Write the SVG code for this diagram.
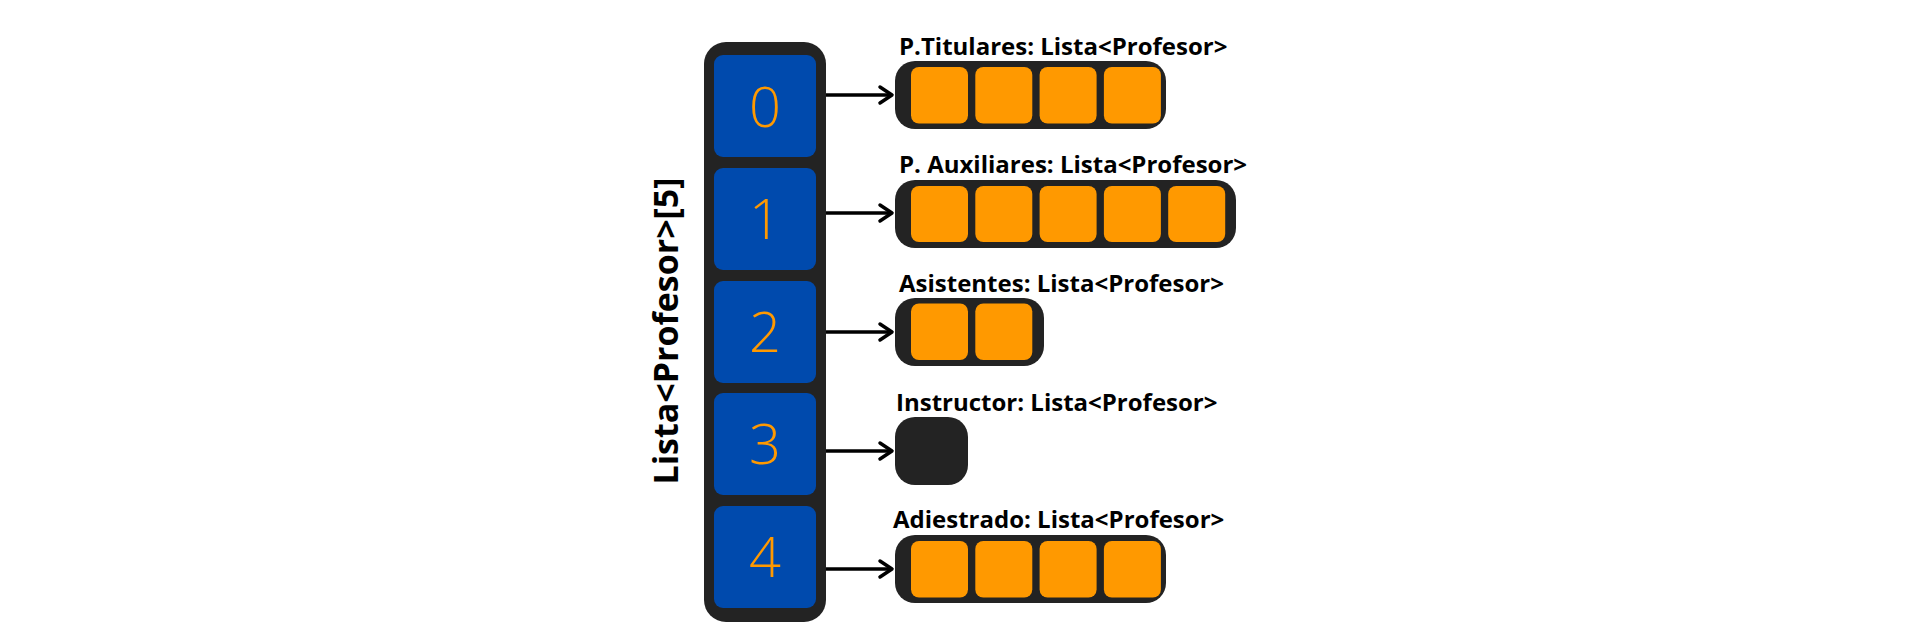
<svg xmlns="http://www.w3.org/2000/svg" width="1912" height="636" viewBox="0 0 1912 636">
<style>
.dark{fill:#232323}
.slot{fill:#004AAD}
.item{fill:#FF9900}
.num{font-family:"Open Sans","DejaVu Sans",sans-serif;font-weight:350;font-size:56px;fill:#FF9900;text-anchor:middle}
.lbl{font-family:"Open Sans","DejaVu Sans",sans-serif;font-weight:700;font-size:24px;fill:#000}
.title{font-family:"Open Sans","DejaVu Sans",sans-serif;font-weight:700;font-size:34px;fill:#000;text-anchor:middle}
.conn{stroke:#000;stroke-width:3.5;fill:none}
</style>
<defs>
<marker id="arr" markerUnits="userSpaceOnUse" markerWidth="20" markerHeight="24" viewBox="0 0 20 24" refX="16" refY="12" orient="auto">
<path d="M4,4 L16,12 L4,20" fill="none" stroke="#000" stroke-width="3.5" stroke-linecap="round" stroke-linejoin="round"/>
</marker>
</defs>
<rect width="1912" height="636" fill="#fff"/>
<g id="array">
<rect class="dark" x="704" y="42" width="122" height="580" rx="22"/>
<text class="title" transform="translate(678,331) rotate(-90)">Lista&lt;Profesor&gt;[5]</text>
</g>
<g id="slot0"><rect class="slot" x="714" y="55" width="102" height="102" rx="9"/><text class="num" x="765" y="127">0</text></g>
<g id="slot1"><rect class="slot" x="714" y="168" width="102" height="102" rx="9"/><text class="num" x="765" y="239">1</text></g>
<g id="slot2"><rect class="slot" x="714" y="281" width="102" height="102" rx="9"/><text class="num" x="765" y="352">2</text></g>
<g id="slot3"><rect class="slot" x="714" y="393" width="102" height="102" rx="9"/><text class="num" x="765" y="464">3</text></g>
<g id="slot4"><rect class="slot" x="714" y="506" width="102" height="102" rx="9"/><text class="num" x="765" y="577">4</text></g>
<g id="connectors">
<line class="conn" x1="826" y1="95" x2="892" y2="95" marker-end="url(#arr)"/>
<line class="conn" x1="826" y1="213" x2="892" y2="213" marker-end="url(#arr)"/>
<line class="conn" x1="826" y1="332" x2="892" y2="332" marker-end="url(#arr)"/>
<line class="conn" x1="826" y1="451" x2="892" y2="451" marker-end="url(#arr)"/>
<line class="conn" x1="826" y1="569" x2="892" y2="569" marker-end="url(#arr)"/>
</g>
<g id="list0">
<text class="lbl" x="899" y="55">P.Titulares: Lista&lt;Profesor&gt;</text>
<rect class="dark" x="895" y="61" width="271" height="68" rx="20"/>
<rect class="item" x="911" y="67" width="57" height="56.5" rx="8"/>
<rect class="item" x="975.3" y="67" width="57" height="56.5" rx="8"/>
<rect class="item" x="1039.6" y="67" width="57" height="56.5" rx="8"/>
<rect class="item" x="1103.9" y="67" width="57" height="56.5" rx="8"/>
</g>
<g id="list1">
<text class="lbl" x="899" y="173">P. Auxiliares: Lista&lt;Profesor&gt;</text>
<rect class="dark" x="895" y="180" width="341" height="68" rx="20"/>
<rect class="item" x="911" y="186" width="57" height="56" rx="8"/>
<rect class="item" x="975.3" y="186" width="57" height="56" rx="8"/>
<rect class="item" x="1039.6" y="186" width="57" height="56" rx="8"/>
<rect class="item" x="1103.9" y="186" width="57" height="56" rx="8"/>
<rect class="item" x="1168.2" y="186" width="57" height="56" rx="8"/>
</g>
<g id="list2">
<text class="lbl" x="899" y="292">Asistentes: Lista&lt;Profesor&gt;</text>
<rect class="dark" x="895" y="298" width="149" height="68" rx="20"/>
<rect class="item" x="911" y="303.5" width="57" height="56.5" rx="8"/>
<rect class="item" x="975.3" y="303.5" width="57" height="56.5" rx="8"/>
</g>
<g id="list3">
<text class="lbl" x="896" y="411">Instructor: Lista&lt;Profesor&gt;</text>
<rect class="dark" x="895" y="417" width="73" height="68" rx="20"/>
</g>
<g id="list4">
<text class="lbl" x="893" y="528">Adiestrado: Lista&lt;Profesor&gt;</text>
<rect class="dark" x="895" y="535" width="271" height="68" rx="20"/>
<rect class="item" x="911" y="541" width="57" height="56.5" rx="8"/>
<rect class="item" x="975.3" y="541" width="57" height="56.5" rx="8"/>
<rect class="item" x="1039.6" y="541" width="57" height="56.5" rx="8"/>
<rect class="item" x="1103.9" y="541" width="57" height="56.5" rx="8"/>
</g>
</svg>
